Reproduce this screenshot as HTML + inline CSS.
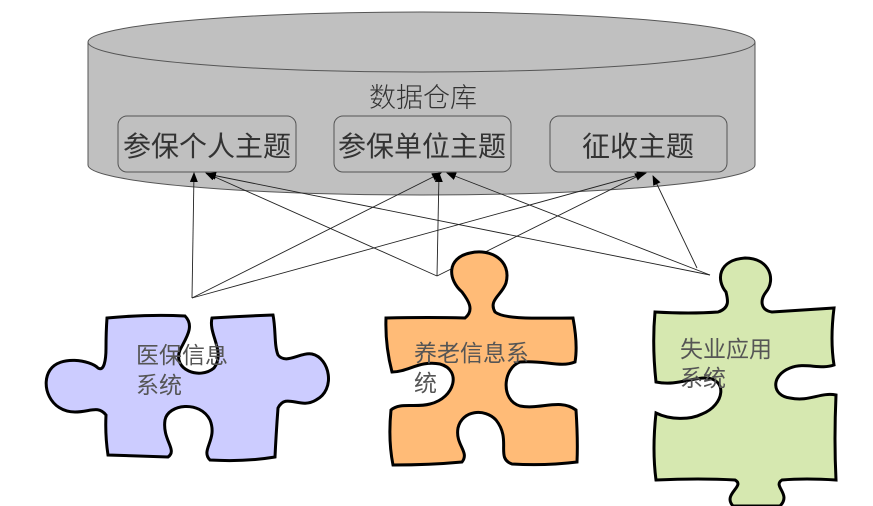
<!DOCTYPE html>
<html><head><meta charset="utf-8"><style>
html,body{margin:0;padding:0;background:#fff;}
svg{display:block;}
text{font-family:"Liberation Sans","Noto Sans CJK SC",sans-serif;}
</style></head><body>
<svg width="873" height="506" viewBox="0 0 873 506" xmlns="http://www.w3.org/2000/svg">
<defs>
<marker id="ah" markerWidth="10" markerHeight="8" refX="9" refY="4" orient="auto" markerUnits="userSpaceOnUse">
<path d="M0,0 L10,4 L0,8 z" fill="#000"/></marker>
</defs>
<path d="M88,42 L88,165 A333.5,30 0 0 0 755,165 L755,42" fill="#c0c0c0" stroke="#555" stroke-width="1"/>
<ellipse cx="421.5" cy="42" rx="333.5" ry="30" fill="#c0c0c0" stroke="#555" stroke-width="1"/>
<text x="423" y="107" font-size="27" font-weight="300" text-anchor="middle" fill="#333">数据仓库</text>
<rect x="118" y="116" width="178" height="56" rx="9" fill="#c0c0c0" stroke="#555"/>
<rect x="334" y="116" width="177" height="56" rx="9" fill="#c0c0c0" stroke="#555"/>
<rect x="550" y="116" width="177" height="56" rx="9" fill="#c0c0c0" stroke="#555"/>
<text x="207" y="156" font-size="28" text-anchor="middle" fill="#333">参保个人主题</text>
<text x="422" y="156" font-size="28" text-anchor="middle" fill="#333">参保单位主题</text>
<text x="638" y="156" font-size="28" text-anchor="middle" fill="#333">征收主题</text>
<g stroke="#222" stroke-width="0.9" fill="none" marker-end="url(#ah)">
<line x1="192" y1="298" x2="194" y2="173"/>
<line x1="192" y1="298" x2="441" y2="173"/>
<line x1="192" y1="298" x2="646" y2="173"/>
<line x1="437" y1="276" x2="206" y2="173"/>
<line x1="437" y1="276" x2="439" y2="173"/>
<line x1="437" y1="276" x2="644" y2="173"/>
<line x1="710" y1="275" x2="207" y2="174"/>
<line x1="710" y1="275" x2="447" y2="173"/>
<line x1="697" y1="268" x2="653" y2="176"/>
</g>
<path d="M107,318 Q150,314 185,316 C195,326 186,338 180,350 C172,370 200,380 214,368 C226,352 208,334 212,318 Q245,316 273,315 C276,330 274,345 278,355 C286,365 300,352 312,354 C330,358 336,390 316,400 C300,410 286,392 278,408 Q276,435 275,457 Q245,462 210,460 C200,450 218,440 210,420 C200,400 168,404 165,420 C162,440 178,450 168,457 Q135,456 108,455 Q105,435 106,415 C98,405 90,412 75,412 C50,412 40,385 50,370 C60,355 90,360 98,368 C104,372 106,360 106,348 Q106,332 107,318 Z" fill="#ccccff" stroke="#000" stroke-width="3"/>
<path d="M386,318 Q430,317 465,318 C475,310 468,300 462,292 C448,280 446,258 470,253 C490,248 512,260 506,283 C502,295 488,300 495,312 C505,320 540,318 573,318 Q578,345 575,362 C560,368 545,360 520,362 C503,368 500,400 520,406 C540,410 560,398 576,410 Q578,440 577,462 Q545,466 512,464 C495,458 512,440 496,420 C485,408 462,410 458,428 C455,445 470,452 462,462 Q430,465 393,465 Q388,440 391,410 C400,402 415,408 430,404 C455,398 462,370 440,364 C420,360 408,372 392,372 Q385,345 386,318 Z" fill="#ffbb77" stroke="#000" stroke-width="3"/>
<path d="M655,312 Q690,314 718,312 C730,308 728,300 726,292 C716,280 718,260 745,258 C770,258 776,280 766,292 C760,300 760,310 772,312 Q805,310 834,308 Q830,340 834,365 C820,370 805,362 790,368 C770,376 772,396 790,398 C810,402 820,392 836,395 Q834,440 836,480 Q805,478 782,480 C772,486 792,494 780,506 L733,506 C722,494 746,486 735,480 Q700,478 656,480 Q652,450 656,413 C670,420 690,420 702,414 C725,405 728,378 705,378 C690,378 676,386 656,382 Q652,345 655,312 Z" fill="#d6e8b0" stroke="#000" stroke-width="3"/>
<g font-size="23" fill="#555">
<text x="136" y="363">医保信息</text>
<text x="136" y="393">系统</text>
<text x="414" y="361">养老信息系</text>
<text x="414" y="391">统</text>
<text x="680" y="357">失业应用</text>
<text x="680" y="386">系统</text>
</g>
</svg>
</body></html>
